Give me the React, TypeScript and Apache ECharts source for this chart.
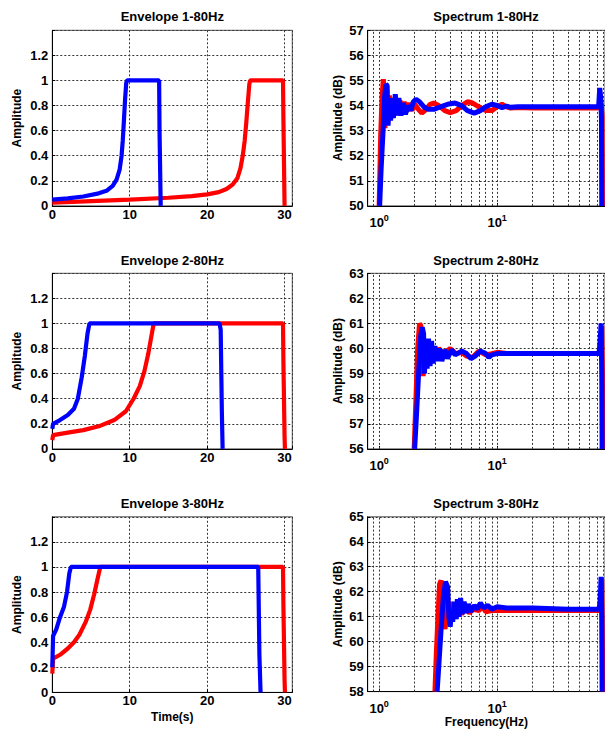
import React, { useEffect, useRef } from "react";
import * as echarts from "echarts";

// ---------- data ----------
const envTitles = ["Envelope 1-80Hz", "Envelope 2-80Hz", "Envelope 3-80Hz"];
const specTitles = ["Spectrum 1-80Hz", "Spectrum 2-80Hz", "Spectrum 3-80Hz"];

const env1Red = [[0,0.025],[5,0.038],[10,0.05],[15,0.065],[18,0.078],[20,0.092],[21.5,0.11],[22.5,0.135],[23.3,0.17],[23.9,0.22],[24.3,0.3],[24.6,0.4],[24.85,0.52],[25.05,0.66],[25.25,0.82],[25.45,0.97],[25.55,1.0],[29.8,1.0],[29.85,0.7],[30.0,0.0]];
const env1Blue = [[0,0.05],[2,0.06],[4,0.075],[6,0.1],[7,0.12],[7.8,0.16],[8.3,0.21],[8.7,0.29],[8.95,0.4],[9.1,0.52],[9.25,0.68],[9.4,0.85],[9.55,0.98],[9.65,1.0],[13.8,1.0],[13.85,0.6],[14.0,0.0]];
const env2Red = [[0,0.07],[0.1,0.11],[2,0.13],[4,0.15],[6,0.18],[8,0.23],[9.5,0.3],[10.5,0.4],[11.3,0.5],[11.9,0.62],[12.4,0.76],[12.8,0.9],[13.1,1.0],[29.8,1.0],[29.85,0.7],[30.0,0.1],[30.05,0.0]];
const env2Blue = [[0,0.16],[0.1,0.2],[1,0.23],[2,0.27],[2.8,0.32],[3.3,0.4],[3.8,0.57],[4.2,0.74],[4.55,0.92],[4.8,1.0],[21.6,1.0],[21.75,0.95],[21.9,0.3],[22.0,0.0]];
const env3Red = [[0,0.15],[0.1,0.27],[1,0.3],[2,0.35],[2.8,0.4],[3.5,0.46],[4.3,0.56],[4.9,0.66],[5.4,0.78],[5.9,0.92],[6.2,1.0],[29.8,1.0],[29.85,0.7],[30.0,0.1],[30.05,0.0]];
const env3Blue = [[0,0.2],[0.1,0.45],[0.5,0.5],[1,0.6],[1.5,0.68],[1.9,0.8],[2.2,0.95],[2.4,1.0],[26.6,1.0],[26.75,0.3],[26.9,0.0]];

const spec1Red = [[1.0,50],[1.03,52.8],[1.06,54.4],[1.085,55.05],[1.1,54.6],[1.12,53.1],[1.15,54.6],[1.18,53.3],[1.22,54.4],[1.26,53.5],[1.3,54.3],[1.34,53.6],[1.39,54.25],[1.44,53.7],[1.5,54.2],[1.56,53.75],[1.63,54.15],[1.7,53.75],[1.8,54.1],[1.9,53.8],[2.0,54.05],[2.15,53.85],[2.3,53.7],[2.5,53.85],[2.7,54.05],[2.9,54.1],[3.2,54.0],[3.6,53.8],[4.0,53.72],[4.5,53.8],[5.0,54.0],[5.6,54.15],[6.2,54.1],[7.0,53.95],[8.0,53.8],[9.0,53.8],[10,53.95],[11,54.05],[12,53.95],[13,53.9],[15,53.92],[20,53.9],[40,53.9],[70,53.9],[74,53.92],[76,54.1],[77.5,53.6],[78,50]];
const spec1Blue = [[1.01,50],[1.04,51.5],[1.08,53],[1.11,54.3],[1.14,54.85],[1.17,54.8],[1.19,53.2],[1.22,54.2],[1.25,53.4],[1.29,54.3],[1.32,53.5],[1.37,54.45],[1.42,53.6],[1.47,54.3],[1.53,53.6],[1.6,54.1],[1.67,53.65],[1.75,54.0],[1.85,53.8],[1.95,54.15],[2.05,54.25],[2.2,54.15],[2.4,53.95],[2.6,53.85],[2.9,53.85],[3.3,53.95],[3.8,54.05],[4.4,54.1],[5.0,54.0],[5.6,53.8],[6.4,53.7],[7.2,53.8],[8.0,53.95],[9.0,54.05],[10,54.0],[11,53.92],[12,53.98],[13,53.93],[15,53.95],[20,53.95],[40,53.95],[70,53.95],[72.5,54.0],[74,54.7],[75.5,54.3],[76.5,53.5],[77,50]];
const spec2Red = [[1.98,56],[2.05,58],[2.12,60],[2.2,61.0],[2.26,60.9],[2.32,59.3],[2.36,58.9],[2.42,60.0],[2.5,59.5],[2.6,60.2],[2.7,59.6],[2.85,60.05],[3.0,59.7],[3.2,60.0],[3.5,59.8],[4,60.0],[4.5,59.8],[5,59.85],[5.5,59.7],[6.2,59.65],[7,59.9],[8,59.75],[9,59.8],[10,59.85],[12,59.8],[20,59.8],[40,59.8],[74,59.8],[76,59.9],[77,60.9],[78,59.0],[78.5,56]];
const spec2Blue = [[2.0,56],[2.08,57.5],[2.16,59],[2.25,60.5],[2.32,60.85],[2.38,60.6],[2.42,59.0],[2.48,60.1],[2.55,59.2],[2.62,60.4],[2.7,59.3],[2.78,60.3],[2.87,59.4],[2.97,60.1],[3.1,59.5],[3.25,60.0],[3.4,59.5],[3.6,59.95],[3.8,59.6],[4.1,59.95],[4.4,59.75],[5,59.9],[5.5,59.8],[6,59.6],[6.5,59.7],[7.2,59.9],[8,59.8],[8.5,59.65],[9,59.75],[10,59.8],[12,59.8],[20,59.8],[40,59.8],[73,59.8],[74.5,60.3],[76,61.0],[77,59],[77.5,56]];
const spec3Red = [[2.97,58],[3.05,59.5],[3.15,61],[3.25,62.3],[3.35,62.45],[3.45,61.8],[3.55,60.8],[3.62,60.5],[3.72,61.3],[3.8,61.7],[3.9,61.0],[4.0,61.6],[4.15,60.9],[4.3,61.5],[4.5,61.0],[4.7,61.4],[5.0,61.1],[5.4,61.35],[5.8,61.15],[6.3,61.3],[7,61.25],[7.5,61.4],[8,61.2],[9,61.25],[10,61.25],[15,61.25],[30,61.25],[74,61.25],[76,61.5],[77,62.5],[78,60],[78.5,58]];
const spec3Blue = [[3.1,58],[3.2,59],[3.35,60.5],[3.5,61.8],[3.65,62.4],[3.8,62.2],[3.9,61.0],[4.0,60.6],[4.1,61.2],[4.2,60.8],[4.35,61.6],[4.5,60.9],[4.6,61.7],[4.75,61.0],[4.9,61.75],[5.05,61.1],[5.25,61.6],[5.45,61.15],[5.7,61.5],[6.0,61.2],[6.4,61.45],[6.8,61.3],[7.2,61.55],[7.7,61.35],[8.3,61.45],[9,61.3],[10,61.4],[12,61.35],[20,61.35],[40,61.3],[73,61.3],[74.5,61.6],[76,62.6],[77,61],[77.5,58]];

const envRed = [env1Red, env2Red, env3Red];
const envBlue = [env1Blue, env2Blue, env3Blue];
const specRed = [spec1Red, spec2Red, spec3Red];
const specBlue = [spec1Blue, spec2Blue, spec3Blue];

const specYMin = [50, 56, 58];
const specYMax = [57, 63, 65];
const envXTicks = [0, 10, 20, 30];
const logGridValues = [0.9, 1, 2, 3, 4, 5, 6, 7, 8, 9, 10, 20, 30, 40, 50, 60, 70, 80];
const logLabelValues = [1, 10];

// ---------- layout ----------
const rowTops = [30.3, 273.3, 516.8];
const rowH = 175.6;
const titleY = [16, 260, 503];
const FONT = "'Liberation Sans', Arial, sans-serif";
const RED = "#ff0000";
const BLUE = "#0000ff";

const gridLine = { show: true, lineStyle: { color: "#333", width: 1, type: [2, 2] as any } };
const labelStyle = { color: "#000", fontFamily: FONT, fontWeight: "bold" as const, fontSize: 13 };
const nameStyle = { color: "#000", fontFamily: FONT, fontWeight: "bold" as const, fontSize: 12 };

function buildOption() {
  const grid: any[] = [];
  const xAxis: any[] = [];
  const yAxis: any[] = [];
  const series: any[] = [];
  const graphic: any[] = [];

  for (let r = 0; r < 3; r++) {
    // envelope
    grid.push({ left: 52.3, top: rowTops[r], width: 240, height: rowH, show: true, borderColor: "#555", borderWidth: 1, backgroundColor: "#fff" });
    const gi = grid.length - 1;
    xAxis.push({
      type: "value", gridIndex: gi, min: 0, max: 31, interval: 10,
      name: r === 2 ? "Time(s)" : "", nameLocation: "middle", nameGap: 19, nameTextStyle: nameStyle,
      axisLine: { show: true, onZero: false, lineStyle: { color: "#000", width: 1 } },
      axisTick: { show: true, inside: true, length: 3, lineStyle: { color: "#000" } },
      axisLabel: { ...labelStyle, margin: 2, formatter: (v: number) => (envXTicks.includes(v) ? String(v) : "") },
      splitLine: gridLine,
    });
    yAxis.push({
      type: "value", gridIndex: gi, min: 0, max: 1.4, interval: 0.2,
      name: "Amplitude", nameLocation: "middle", nameGap: 29, nameTextStyle: nameStyle,
      axisLine: { show: true, lineStyle: { color: "#000", width: 1 } },
      axisTick: { show: true, inside: true, length: 3, lineStyle: { color: "#000" } },
      axisLabel: { ...labelStyle, margin: 4, formatter: (v: number) => (v > 1.3 ? "" : String(Math.round(v * 10) / 10)) },
      splitLine: gridLine,
    });
    series.push({ type: "line", xAxisIndex: gi, yAxisIndex: gi, data: envRed[r], showSymbol: false, symbol: "none", lineStyle: { color: RED, width: 4.2 }, z: 10 });
    series.push({ type: "line", xAxisIndex: gi, yAxisIndex: gi, data: envBlue[r], showSymbol: false, symbol: "none", lineStyle: { color: BLUE, width: 4.2 }, z: 11 });
    graphic.push({ type: "text", x: 172.3, y: titleY[r], style: { text: envTitles[r], font: `bold 13px ${FONT}`, fill: "#000", textAlign: "center", textVerticalAlign: "middle" } });

    // spectrum
    grid.push({ left: 367.7, top: rowTops[r], width: 237.3, height: rowH, show: true, borderColor: "#555", borderWidth: 1, backgroundColor: "#fff" });
    const gj = grid.length - 1;
    xAxis.push({
      type: "log", logBase: 10, gridIndex: gj, min: 0.8, max: 82,
      name: r === 2 ? "Frequency(Hz)" : "", nameLocation: "middle", nameGap: 22, nameTextStyle: nameStyle,
      axisLine: { show: true, onZero: false, lineStyle: { color: "#000", width: 1 } },
      axisTick: { show: true, inside: true, length: 3, customValues: logLabelValues, lineStyle: { color: "#000" } },
      axisLabel: {
        ...labelStyle, margin: 8, customValues: logLabelValues,
        formatter: (v: number) => (Math.abs(v - 1) < 1e-6 ? "{b|10}{s|0}" : Math.abs(v - 10) < 1e-6 ? "{b|10}{s|1}" : ""),
        rich: {
          b: { fontFamily: FONT, fontWeight: "bold", fontSize: 13, color: "#000" },
          s: { fontFamily: FONT, fontWeight: "bold", fontSize: 9, color: "#000", padding: [0, 0, 9, 0] },
        },
      },
      splitLine: { show: false },
    });
    yAxis.push({
      type: "value", gridIndex: gj, min: specYMin[r], max: specYMax[r], interval: 1,
      name: "Amplitude (dB)", nameLocation: "middle", nameGap: 24, nameTextStyle: nameStyle,
      axisLine: { show: true, lineStyle: { color: "#000", width: 1 } },
      axisTick: { show: true, inside: true, length: 3, lineStyle: { color: "#000" } },
      axisLabel: { ...labelStyle, margin: 4 },
      splitLine: gridLine,
    });
    series.push({
      type: "line", xAxisIndex: gj, yAxisIndex: gj, data: specRed[r], showSymbol: false, symbol: "none",
      lineStyle: { color: RED, width: 5 }, z: 10,
      markLine: {
        silent: true, symbol: ["none", "none"], label: { show: false },
        lineStyle: { color: "#333", width: 1, type: [2, 2] },
        data: logGridValues.map((v) => ({ xAxis: v })),
      },
    });
    series.push({ type: "line", xAxisIndex: gj, yAxisIndex: gj, data: specBlue[r], showSymbol: false, symbol: "none", lineStyle: { color: BLUE, width: 5 }, z: 11 });
    graphic.push({ type: "text", x: 486, y: titleY[r], style: { text: specTitles[r], font: `bold 13px ${FONT}`, fill: "#000", textAlign: "center", textVerticalAlign: "middle" } });
  }

  return { animation: false, backgroundColor: "#fff", grid, xAxis, yAxis, series, graphic };
}

export default function App() {
  const ref = useRef<HTMLDivElement>(null);
  useEffect(() => {
    if (!ref.current) return;
    const chart = echarts.init(ref.current, undefined, { renderer: "svg" });
    chart.setOption(buildOption() as any);
    return () => chart.dispose();
  }, []);
  return <div ref={ref} style={{ position: "fixed", left: 0, top: 0, width: 605, height: 729, background: "#fff" }} />;
}
